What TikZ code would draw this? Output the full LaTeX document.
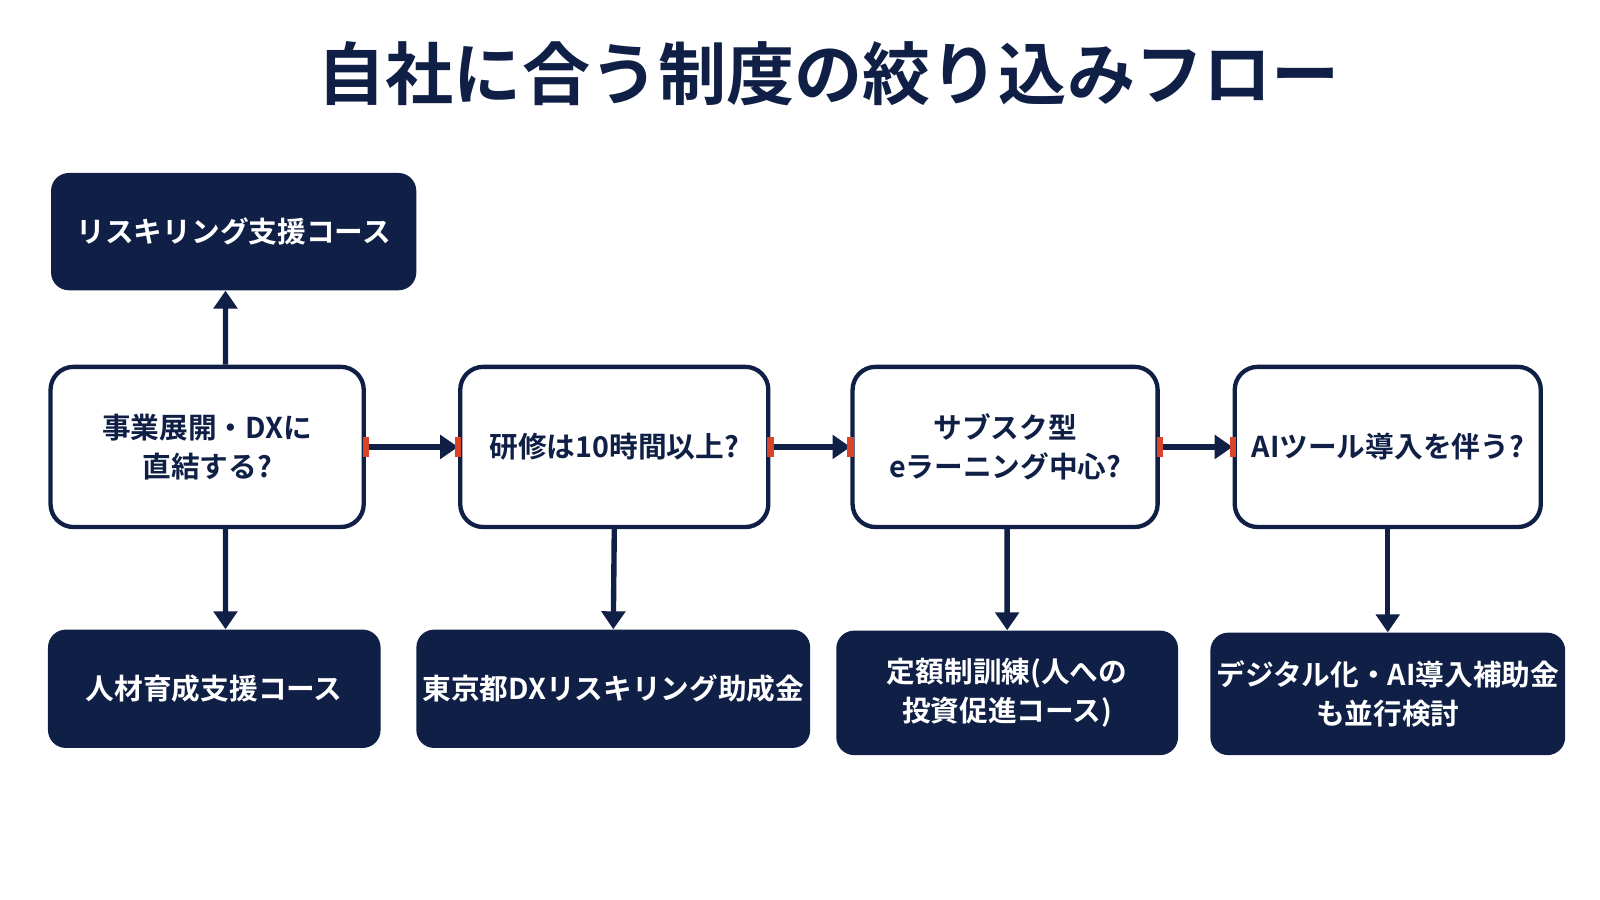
\documentclass[tikz,border=0pt]{standalone}
\usepackage{fontspec}
\setmainfont{Noto Sans CJK JP}[BoldFont={Noto Sans CJK JP Bold}]
\usetikzlibrary{arrows.meta,positioning}
\definecolor{navy}{HTML}{0F1F45}
\definecolor{tickred}{HTML}{D8452B}
\begin{document}
\begin{tikzpicture}[x=0.02cm, y=-0.02cm,
        q node/.style={draw=navy, line width=2.4pt, fill=white, rounded corners=0.45cm, align=center, text=navy, font=\fontsize{16}{22}\selectfont\bfseries},
        r node/.style={fill=navy, rounded corners=0.35cm, align=center, text=white, font=\fontsize{16}{22}\selectfont\bfseries},
        flow/.style={draw=navy, line width=3pt, -{Triangle[length=10pt,width=13pt]}},
        red tick/.style={fill=tickred, minimum width=0.12cm, minimum height=0.38cm, inner sep=0pt}]
    \useasboundingbox (0,0) rectangle (1568,882);
    \node[text=navy, font=\fontsize{38}{44}\selectfont\bfseries] (title) at (812,72) {自社に合う制度の絞り込みフロー};
    % questions
    \node[q node, minimum width=6.14cm, minimum height=3.14cm] (q1) at (203,438) {事業展開・DXに\\直結する?};
    \node[q node, minimum width=6.04cm, minimum height=3.14cm] (q2) at (602,438) {研修は10時間以上?};
    \node[q node, minimum width=5.98cm, minimum height=3.14cm] (q3) at (985,438) {サブスク型\\eラーニング中心?};
    \node[q node, minimum width=6.0cm, minimum height=3.14cm] (q4) at (1360,438) {AIツール導入を伴う?};
    % results
    \node[r node, minimum width=7.16cm, minimum height=2.3cm] (top) at (229,227) {リスキリング支援コース};
    \node[r node, minimum width=6.52cm, minimum height=2.32cm] (r1) at (210,675) {人材育成支援コース};
    \node[r node, minimum width=7.06cm, minimum height=2.32cm] (r2) at (601,675) {東京都DXリスキリング助成金};
    \node[r node, minimum width=6.7cm, minimum height=2.44cm] (r3) at (987,679) {定額制訓練(人への\\投資促進コース)};
    \node[r node, minimum width=6.9cm, minimum height=2.4cm] (r4) at (1360,680) {デジタル化・AI導入補助金\\も並行検討};
    % arrows
    \draw[flow] ([xshift=0.36cm]q1.north) -- ([xshift=-0.16cm]top.south);
    \draw[flow] ([xshift=0.36cm]q1.south) -- ([xshift=0.22cm]r1.north);
    \draw[flow] (q2.south) -- (r2.north);
    \draw[flow] ([xshift=0.04cm]q3.south) -- (r3.north);
    \draw[flow] (q4.south) -- (r4.north);
    \draw[flow] (q1.east) -- (q2.west);
    \draw[flow] (q2.east) -- (q3.west);
    \draw[flow] (q3.east) -- (q4.west);
    \foreach \a/\b in {q1/q2,q2/q3,q3/q4} {
        \node[red tick] at (\a.east) {};
        \node[red tick] at (\b.west) {};
    }
\end{tikzpicture}
\end{document}
